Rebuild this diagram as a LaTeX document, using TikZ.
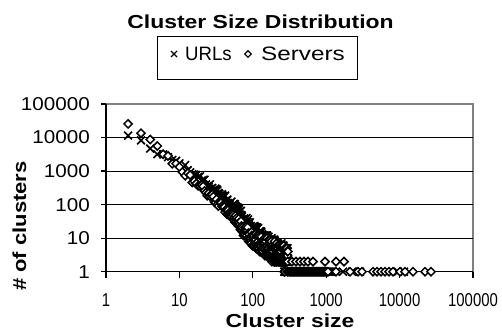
\documentclass[tikz,border=0pt]{standalone}
\usepackage{fontspec}
\setmainfont{Liberation Sans}
\usepackage{graphicx}
\newcommand\hsc[2]{\scalebox{#1}[1]{#2}}
\tikzset{
  gridln/.style={black, line width=0.9pt},
  frameln/.style={gray, line width=1.2pt},
  axisln/.style={black, line width=1.3pt},
  ticklab/.style={font=\fontsize{18.6}{20}\selectfont, inner sep=0pt},
  leglab/.style={font=\fontsize{19.4}{21}\selectfont, inner sep=0pt},
  boldlab/.style={font=\fontsize{18.8}{20}\selectfont\bfseries, inner sep=0pt},
  crossmk/.style={black, line width=1.6pt},
  diamk/.style={black, fill=white, line width=1.5pt},
}
\newcommand\mkcross[2]{\draw[crossmk] (#1,#2) +(-3.9,-3.9) -- +(3.9,3.9) +(-3.9,3.9) -- +(3.9,-3.9);}
\newcommand\mkdiam[2]{\draw[diamk] (#1,#2) +(0,-4.1) -- +(4.1,0) -- +(0,4.1) -- +(-4.1,0) -- cycle;}
\begin{document}
\begin{tikzpicture}[x=1pt,y=-1pt]
\useasboundingbox (0,0) rectangle (502,331);
% title
\node[boldlab, anchor=base] (title) at (260.5,28.3) {\hsc{1.22}{Cluster Size Distribution}};
% legend
\draw[black, line width=1pt] (157,37) rectangle (357,80);
\draw[black, line width=1.2pt] (174,54) +(-3,-3) -- +(3,3) +(-3,3) -- +(3,-3);
\draw[black, line width=1.2pt] (248,54) +(0,-3.3) -- +(3.3,0) -- +(0,3.3) -- +(-3.3,0) -- cycle;
\node[leglab, anchor=base west] (lurl) at (185,61) {\hsc{0.96}{URLs}};
\node[leglab, anchor=base west] (lsrv) at (261,61) {\hsc{1.25}{Servers}};
% plot frame and grid
\draw[frameln] (106,104) -- (473,104) -- (473,271.7);
\foreach \k in {1,2,3,4}{
  \draw[gridln] (106,{271.7-33.54*\k}) -- (473,{271.7-33.54*\k});
}
% axes
\draw[axisln] (106,104) -- (106,271.7) -- (473,271.7);
\foreach \k in {0,...,5}{
  \draw[axisln] (101,{271.7-33.54*\k}) -- (106,{271.7-33.54*\k});
  \draw[axisln] ({106+73.4*\k},271.7) -- ({106+73.4*\k},277.5);
}
% y tick labels
\foreach \k/\t in {0/1,1/10,2/100,3/1000,4/10000,5/100000}{
  \node[ticklab, anchor=east] at (90,{271.7-33.54*\k}) {\hsc{1.11}{\t}};
}
% x tick labels
\foreach \k/\t in {0/1,1/10,2/100,3/1000,4/10000,5/100000}{
  \node[ticklab, anchor=base] at ({106+73.4*\k},306) {\hsc{0.8}{\t}};
}
% axis titles
\node[boldlab, rotate=90] (ytitle) at (19.5,226) {\hsc{1.17}{\# of clusters}};
\node[boldlab, anchor=base] (xtitle) at (290,327) {\hsc{1.22}{Cluster size}};
% URLs series (crosses)
\pgfmathsetseed{2024}
\foreach \s in {2,...,300}{
  \pgfmathsetmacro\L{log10(\s)}
  \pgfmathsetmacro\m{(\L<0.477) ? (4.05-1.14*(\L-0.301)) : ((\L<1) ? (3.85-1.25*(\L-0.477)) : ((\L<1.485) ? (3.22-1.55*(\L-1)) : ((\L<1.785) ? (2.47-2.1*(\L-1.485)) : ((\L<2) ? (1.84-2.8*(\L-1.785)) : (1.24-1.9*(\L-2))))))}
  \pgfmathsetmacro\sd{0.07+0.45/sqrt(10^min(\m,4))}
  \pgfmathsetmacro\mm{\m+rand*\sd}
  \pgfmathsetmacro\M{(\mm>1.7) ? \mm : log10(max(round(10^min(\mm,4)),0.1))}
  \ifdim\M pt>-0.5pt
    \mkcross{106+73.4*\L}{271.7-33.54*\M}
  \fi
}
\foreach \x in {289,290.2,...,332}{\mkcross{\x}{271.7}}
\foreach \x in {336,343,352,360,398,404}{\mkcross{\x}{271.7}}
% Servers series (diamonds)
\foreach \s in {2,...,300}{
  \pgfmathsetmacro\L{log10(\s)}
  \pgfmathsetmacro\m{(\L<0.477) ? (4.48-2.0*(\L-0.301)) : ((\L<1) ? (4.13-2.0*(\L-0.477)) : ((\L<1.485) ? (3.08-1.93*(\L-1)) : ((\L<1.785) ? (2.14-2.13*(\L-1.485)) : ((\L<2) ? (1.5-2.6*(\L-1.785)) : (0.94-1.1*(\L-2))))))}
  \pgfmathsetmacro\sd{0.07+0.45/sqrt(10^min(\m,4))}
  \pgfmathsetmacro\mm{\m+rand*\sd}
  \pgfmathsetmacro\M{(\mm>1.7) ? \mm : log10(max(round(10^min(\mm,4)),0.1))}
  \ifdim\M pt>-0.5pt
    \mkdiam{106+73.4*\L}{271.7-33.54*\M}
  \fi
}
\foreach \x in {292,296,300,304,308,313,325,336,344}{\mkdiam{\x}{261.6}}
\foreach \x in {289,290,...,328}{\mkdiam{\x}{271.7}}
\foreach \x in {336,350,358,362,373,377,381,385,389,393,400,405,413,425,431}{\mkdiam{\x}{271.7}}
\end{tikzpicture}
\end{document}
